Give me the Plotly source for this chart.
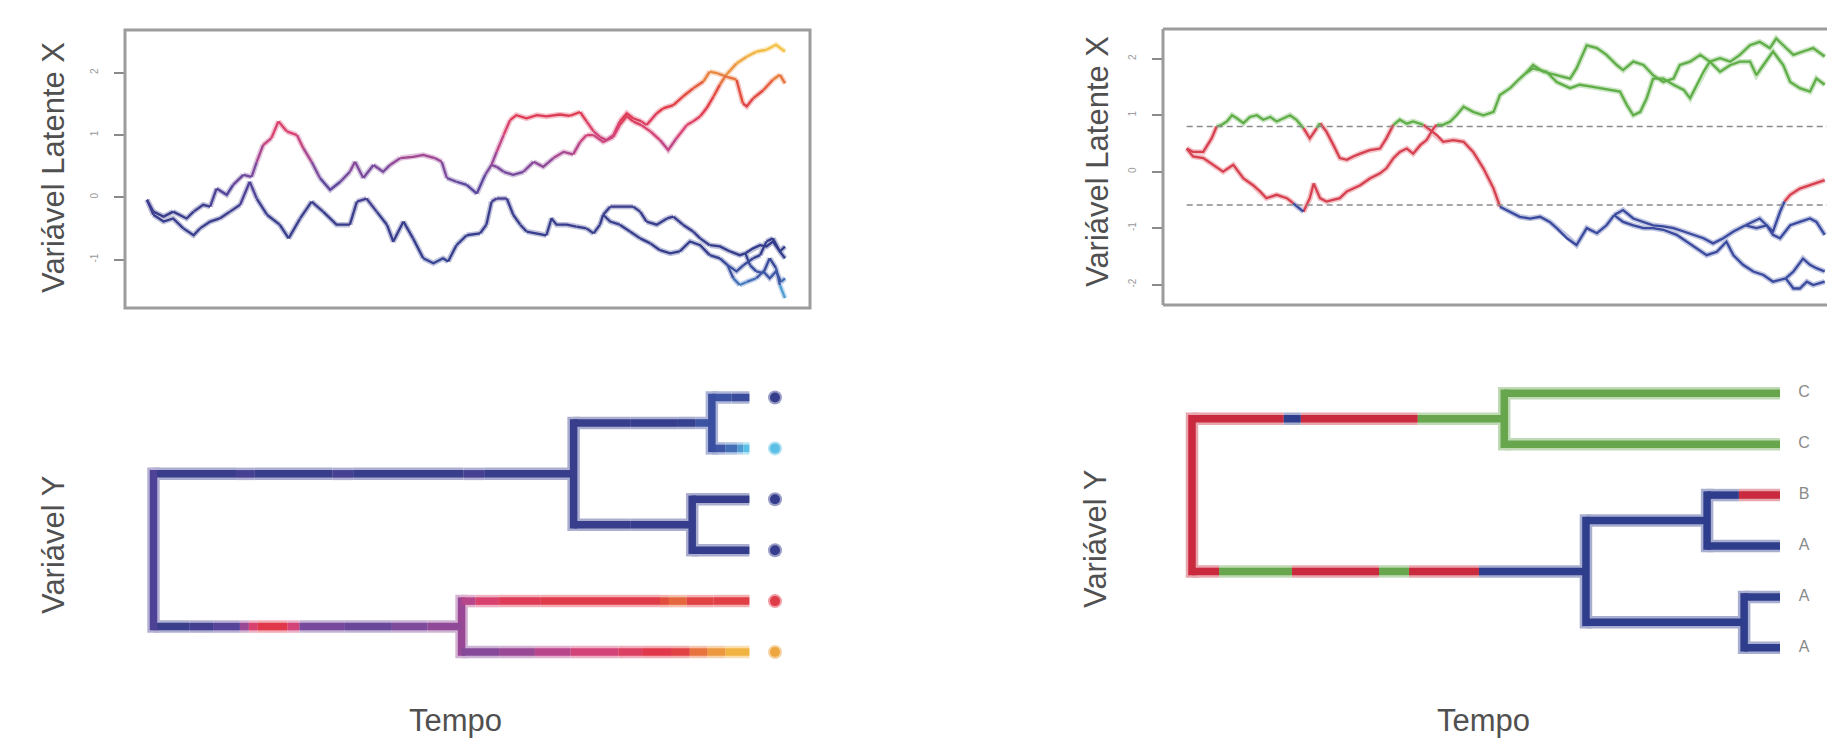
import plotly.graph_objects as go

W, H = 1827, 740

# ======================= DATA =======================
# Left panel (continuous trait): latent variable X along each branch, (relative time, value)
ESQ_RAIZ_A = [(0.000, -0.04), (0.010, -0.28), (0.026, -0.39), (0.041, -0.34), (0.057, -0.50), (0.073, -0.61),
              (0.083, -0.50), (0.099, -0.39), (0.114, -0.34), (0.130, -0.23), (0.146, -0.12), (0.161, 0.25),
              (0.172, -0.02), (0.188, -0.28), (0.208, -0.44), (0.222, -0.66), (0.240, -0.34), (0.258, -0.07),
              (0.276, -0.23), (0.297, -0.44), (0.318, -0.44), (0.329, -0.07), (0.344, -0.02), (0.360, -0.23),
              (0.376, -0.44), (0.386, -0.71), (0.402, -0.39), (0.417, -0.66), (0.433, -0.98), (0.449, -1.06),
              (0.464, -0.98), (0.472, -1.03), (0.485, -0.77), (0.501, -0.61), (0.522, -0.58), (0.532, -0.44),
              (0.540, -0.07), (0.548, -0.02), (0.564, -0.02), (0.574, -0.28), (0.585, -0.44), (0.595, -0.55),
              (0.611, -0.58), (0.626, -0.61), (0.634, -0.34), (0.642, -0.44), (0.658, -0.44), (0.673, -0.47),
              (0.689, -0.50), (0.700, -0.58), (0.710, -0.44), (0.715, -0.28)]
ESQ_RAIZ_B = [(0.000, -0.04), (0.010, -0.23), (0.026, -0.31), (0.041, -0.23), (0.062, -0.34), (0.073, -0.23),
              (0.088, -0.12), (0.099, -0.15), (0.109, 0.14), (0.125, 0.04), (0.135, 0.20), (0.151, 0.36),
              (0.164, 0.33), (0.172, 0.57), (0.182, 0.84), (0.195, 0.95), (0.206, 1.22), (0.219, 1.06),
              (0.235, 1.00), (0.245, 0.79), (0.258, 0.57), (0.271, 0.31), (0.287, 0.12), (0.303, 0.25),
              (0.318, 0.41), (0.326, 0.57), (0.339, 0.31), (0.355, 0.52), (0.370, 0.41), (0.381, 0.52),
              (0.397, 0.63), (0.417, 0.65), (0.433, 0.68), (0.451, 0.63), (0.462, 0.57), (0.470, 0.31),
              (0.485, 0.25), (0.501, 0.20), (0.517, 0.06), (0.530, 0.36), (0.540, 0.52)]
ESQ_A_A1 = [(0.715, -0.28), (0.726, -0.15), (0.741, -0.15), (0.762, -0.15), (0.773, -0.23), (0.783, -0.39),
            (0.799, -0.44), (0.815, -0.34), (0.825, -0.31), (0.840, -0.44), (0.856, -0.55), (0.867, -0.66),
            (0.882, -0.77), (0.898, -0.79), (0.914, -0.87), (0.929, -0.93), (0.938, -0.90)]
ESQ_A_A2 = [(0.715, -0.28), (0.726, -0.39), (0.741, -0.44), (0.757, -0.55), (0.773, -0.66), (0.789, -0.74),
            (0.804, -0.85), (0.820, -0.90), (0.835, -0.87), (0.851, -0.71), (0.867, -0.77), (0.882, -0.93),
            (0.898, -0.98), (0.910, -1.09)]
ESQ_A1_T1 = [(0.938, -0.90), (0.950, -0.82), (0.961, -0.77), (0.971, -0.79), (0.981, -0.71), (0.992, -0.87),
             (1.000, -0.79)]
ESQ_A1_T2 = [(0.938, -0.90), (0.945, -1.09), (0.955, -1.19), (0.966, -1.22), (0.976, -0.98), (0.986, -1.14),
             (0.992, -1.41), (1.000, -1.62)]
ESQ_A2_T3 = [(0.910, -1.09), (0.924, -1.19), (0.935, -1.09), (0.950, -0.98), (0.961, -0.93), (0.971, -0.71),
             (0.981, -0.66), (0.992, -0.87), (1.000, -0.98)]
ESQ_A2_T4 = [(0.910, -1.09), (0.919, -1.30), (0.929, -1.41), (0.940, -1.36), (0.955, -1.30), (0.966, -1.19),
             (0.976, -1.30), (0.986, -1.19), (0.994, -1.36), (1.000, -1.30)]
ESQ_B_T5 = [(0.540, 0.52), (0.548, 0.73), (0.559, 1.00), (0.569, 1.24), (0.579, 1.32), (0.595, 1.27),
            (0.611, 1.32), (0.626, 1.30), (0.647, 1.33), (0.663, 1.31), (0.679, 1.37), (0.689, 1.22),
            (0.700, 1.06), (0.710, 0.97), (0.720, 0.92), (0.731, 1.00), (0.741, 1.22), (0.752, 1.35),
            (0.762, 1.27), (0.775, 1.22), (0.783, 1.16), (0.799, 1.35), (0.809, 1.43), (0.825, 1.48),
            (0.840, 1.62), (0.856, 1.75), (0.872, 1.86), (0.882, 2.02), (0.895, 1.99), (0.908, 1.94),
            (0.924, 1.89), (0.934, 1.51), (0.940, 1.46), (0.950, 1.59), (0.966, 1.72), (0.981, 1.89),
            (0.992, 1.97), (1.000, 1.83)]
ESQ_B_T6 = [(0.540, 0.52), (0.548, 0.49), (0.559, 0.41), (0.574, 0.36), (0.590, 0.41), (0.606, 0.57),
            (0.621, 0.49), (0.637, 0.63), (0.653, 0.73), (0.668, 0.69), (0.679, 0.89), (0.689, 1.00),
            (0.700, 1.00), (0.715, 0.89), (0.731, 0.97), (0.741, 1.16), (0.752, 1.30), (0.762, 1.22),
            (0.775, 1.16), (0.789, 1.06), (0.804, 0.92), (0.817, 0.76), (0.830, 0.95), (0.846, 1.16),
            (0.856, 1.22), (0.867, 1.30), (0.877, 1.43), (0.888, 1.62), (0.898, 1.81), (0.908, 1.97),
            (0.924, 2.15), (0.940, 2.26), (0.955, 2.34), (0.971, 2.37), (0.986, 2.45), (1.000, 2.34)]

# Right panel (threshold model): latent variable X along each branch
DIR_RAIZ_AB = [(0.000, 0.41), (0.010, 0.35), (0.026, 0.35), (0.039, 0.59), (0.047, 0.80), (0.055, 0.83),
               (0.063, 0.89), (0.071, 1.00), (0.078, 0.95), (0.089, 0.86), (0.099, 0.97), (0.110, 1.00),
               (0.120, 0.92), (0.131, 0.97), (0.141, 0.89), (0.152, 0.95), (0.162, 1.00), (0.172, 0.92),
               (0.183, 0.77), (0.193, 0.59), (0.204, 0.77), (0.209, 0.86), (0.219, 0.71), (0.230, 0.47),
               (0.240, 0.24), (0.251, 0.21), (0.261, 0.27), (0.272, 0.32), (0.287, 0.38), (0.303, 0.41),
               (0.313, 0.59), (0.324, 0.83), (0.334, 0.92), (0.345, 0.85), (0.355, 0.89), (0.371, 0.83),
               (0.381, 0.74), (0.392, 0.65), (0.402, 0.53), (0.418, 0.56), (0.434, 0.53), (0.449, 0.35),
               (0.465, 0.06), (0.481, -0.30), (0.491, -0.62), (0.507, -0.71), (0.522, -0.80), (0.538, -0.83),
               (0.554, -0.80), (0.569, -0.89), (0.580, -1.00), (0.596, -1.18), (0.611, -1.30), (0.627, -1.00),
               (0.643, -1.09), (0.658, -0.95), (0.670, -0.77)]
DIR_RAIZ_C = [(0.000, 0.41), (0.010, 0.27), (0.026, 0.24), (0.042, 0.12), (0.057, 0.00), (0.073, 0.12),
              (0.089, -0.12), (0.104, -0.24), (0.115, -0.35), (0.125, -0.47), (0.141, -0.41), (0.157, -0.47),
              (0.167, -0.56), (0.183, -0.71), (0.193, -0.47), (0.199, -0.21), (0.209, -0.47), (0.219, -0.53),
              (0.230, -0.50), (0.240, -0.47), (0.251, -0.35), (0.261, -0.30), (0.272, -0.24), (0.287, -0.12),
              (0.303, -0.03), (0.313, 0.06), (0.324, 0.24), (0.334, 0.35), (0.345, 0.41), (0.355, 0.32),
              (0.366, 0.47), (0.376, 0.56), (0.387, 0.77), (0.392, 0.83), (0.402, 0.83), (0.413, 0.89),
              (0.423, 1.00), (0.434, 1.15), (0.449, 1.06), (0.465, 1.00), (0.481, 1.06), (0.491, 1.36),
              (0.507, 1.48), (0.522, 1.65), (0.531, 1.74)]
DIR_C_U1 = [(0.531, 1.74), (0.543, 1.89), (0.559, 1.77), (0.580, 1.71), (0.601, 1.65), (0.611, 1.83),
            (0.627, 2.24), (0.643, 2.19), (0.658, 2.07), (0.674, 1.89), (0.684, 1.80), (0.700, 1.95),
            (0.716, 1.89), (0.731, 1.71), (0.747, 1.59), (0.763, 1.65), (0.773, 1.89), (0.789, 1.95),
            (0.805, 2.07), (0.820, 1.95), (0.836, 2.01), (0.852, 1.95), (0.867, 2.07), (0.883, 2.24),
            (0.898, 2.30), (0.914, 2.19), (0.924, 2.36), (0.935, 2.24), (0.951, 2.07), (0.966, 2.13),
            (0.982, 2.19), (1.000, 2.04)]
DIR_C_U2 = [(0.531, 1.74), (0.543, 1.83), (0.564, 1.77), (0.580, 1.59), (0.601, 1.48), (0.616, 1.54),
            (0.632, 1.51), (0.648, 1.48), (0.664, 1.45), (0.679, 1.42), (0.690, 1.18), (0.700, 1.00),
            (0.711, 1.06), (0.721, 1.30), (0.731, 1.65), (0.747, 1.65), (0.763, 1.54), (0.779, 1.45),
            (0.789, 1.30), (0.800, 1.54), (0.810, 1.77), (0.820, 1.95), (0.836, 1.77), (0.852, 1.89),
            (0.867, 1.95), (0.883, 1.95), (0.893, 1.71), (0.904, 1.89), (0.919, 2.13), (0.935, 1.89),
            (0.946, 1.59), (0.961, 1.48), (0.977, 1.42), (0.987, 1.65), (1.000, 1.54)]
DIR_AB_S1 = [(0.670, -0.77), (0.684, -0.68), (0.700, -0.83), (0.716, -0.89), (0.731, -0.95), (0.747, -0.97),
             (0.763, -1.00), (0.779, -1.06), (0.794, -1.12), (0.810, -1.18), (0.825, -1.27), (0.841, -1.18),
             (0.857, -1.06), (0.876, -0.95)]
DIR_AB_S2 = [(0.670, -0.77), (0.684, -0.89), (0.700, -0.95), (0.716, -1.00), (0.731, -1.00), (0.747, -1.03),
             (0.768, -1.12), (0.784, -1.24), (0.800, -1.36), (0.815, -1.48), (0.831, -1.42), (0.846, -1.24),
             (0.857, -1.48), (0.872, -1.65), (0.888, -1.77), (0.904, -1.83), (0.919, -1.95), (0.939, -1.89)]
DIR_S1_U3 = [(0.876, -0.95), (0.888, -0.89), (0.898, -0.83), (0.909, -0.95), (0.919, -1.06), (0.930, -0.71),
             (0.937, -0.53), (0.946, -0.41), (0.961, -0.30), (0.977, -0.24), (1.000, -0.15)]
DIR_S1_U4 = [(0.876, -0.95), (0.893, -1.00), (0.909, -0.95), (0.919, -1.12), (0.930, -1.18), (0.946, -0.95),
             (0.961, -0.89), (0.977, -0.83), (0.987, -0.89), (1.000, -1.12)]
DIR_S2_U5 = [(0.939, -1.89), (0.951, -1.77), (0.966, -1.54), (0.977, -1.65), (0.987, -1.71), (1.000, -1.77)]
DIR_S2_U6 = [(0.939, -1.89), (0.951, -2.07), (0.961, -2.07), (0.972, -1.95), (0.982, -2.01), (1.000, -1.95)]

LIMIARES = [0.80, -0.59]          # thresholds (upper, lower)
ESQ_TICKS = [-1, 0, 1, 2]
DIR_TICKS = [-2, -1, 0, 1, 2]

# Left tree (contMap): topology, node times, colour values (runs: start time, value)
ARV_ESQ_PONTAS = ["t1", "t2", "t3", "t4", "t5", "t6"]
ARV_ESQ_PAI = {"A": "raiz", "B": "raiz", "A1": "A", "A2": "A", "t1": "A1", "t2": "A1",
               "t3": "A2", "t4": "A2", "t5": "B", "t6": "B"}
ARV_ESQ_TEMPO = {"raiz": 0.0, "A": 0.705, "B": 0.517, "A1": 0.937, "A2": 0.904,
                 "t1": 1.0, "t2": 1.0, "t3": 1.0, "t4": 1.0, "t5": 1.0, "t6": 1.0}
ARV_ESQ_VALORES = {
    "A": [(0.0, -0.3), (0.14, -0.05), (0.17, -0.35), (0.30, -0.05), (0.335, -0.35), (0.52, -0.05), (0.555, -0.4)],
    "B": [(0.0, -0.25), (0.06, -0.1), (0.10, 0.15), (0.145, 0.6), (0.16, 1.1), (0.175, 1.4), (0.225, 1.0),
          (0.245, 0.4), (0.32, 0.3), (0.40, 0.45), (0.46, 0.55)],
    "A1": [(0.705, -0.45), (0.80, -0.7), (0.88, -0.95), (0.91, -1.2)],
    "A2": [(0.705, -0.45), (0.80, -0.6)],
    "t1": [(0.937, -1.2), (0.97, -1.1)],
    "t2": [(0.937, -1.25), (0.96, -1.35), (0.98, -1.5), (0.99, -1.6)],
    "t3": [(0.904, -0.7)],
    "t4": [(0.904, -0.75)],
    "t5": [(0.517, 0.8), (0.54, 1.1), (0.58, 1.3), (0.65, 1.45), (0.85, 1.7), (0.865, 1.85), (0.895, 1.55),
           (0.94, 1.5)],
    "t6": [(0.517, 0.5), (0.58, 0.6), (0.64, 0.8), (0.70, 1.0), (0.78, 1.2), (0.82, 1.4), (0.87, 1.55),
           (0.90, 1.9), (0.93, 2.1), (0.96, 2.3)],
}
ARV_ESQ_NO_VALOR = {"raiz": 0.05, "A": -0.4, "B": 0.6, "A1": -1.15, "A2": -0.65}
ARV_ESQ_PONTA_VALOR = [-0.6, -1.62, -0.6, -0.6, 1.45, 2.2]

# Right tree (stochastic map of the discrete character): runs (state, start time)
ARV_DIR_PONTAS = ["u1", "u2", "u3", "u4", "u5", "u6"]
ARV_DIR_ROTULOS = ["C", "C", "B", "A", "A", "A"]
ARV_DIR_PAI = {"C": "raiz", "AB": "raiz", "S1": "AB", "S2": "AB", "u1": "C", "u2": "C",
               "u3": "S1", "u4": "S1", "u5": "S2", "u6": "S2"}
ARV_DIR_TEMPO = {"raiz": 0.0, "C": 0.531, "AB": 0.670, "S1": 0.876, "S2": 0.939,
                 "u1": 1.0, "u2": 1.0, "u3": 1.0, "u4": 1.0, "u5": 1.0, "u6": 1.0}
ARV_DIR_MAPAS = {
    "C": [("B", 0.0), ("A", 0.156), ("B", 0.185), ("C", 0.384)],
    "AB": [("B", 0.0), ("C", 0.046), ("B", 0.17), ("C", 0.318), ("B", 0.369), ("A", 0.488)],
    "u1": [("C", 0.531)], "u2": [("C", 0.531)],
    "S1": [("A", 0.670)], "S2": [("A", 0.670)],
    "u3": [("A", 0.876), ("B", 0.93)], "u4": [("A", 0.876)],
    "u5": [("A", 0.939)], "u6": [("A", 0.939)],
}
ARV_DIR_NO_ESTADO = {"raiz": "B", "C": "C", "AB": "A", "S1": "A", "S2": "A"}

# ======================= STYLE =======================
FONT = "Liberation Sans, Arial, sans-serif"
FRAME = "#9c9c9c"
STATE_CORE = {"A": "#2f3d8d", "B": "#c92a3d", "C": "#68a64e"}
STATE_LINE = {"A": "#3a4a9e", "B": "#d6404f", "C": "#5fae48"}
CMAP = [(-1.62, "#5ec8ea"), (-1.45, "#4a88c8"), (-1.25, "#3d56a6"), (-0.9, "#333d8c"), (-0.2, "#3a3d8c"),
        (0.15, "#55449a"), (0.45, "#7d4a9c"), (0.75, "#b2468e"), (1.05, "#d84474"), (1.4, "#e0384a"),
        (1.75, "#e2503c"), (2.0, "#ea8a3e"), (2.45, "#f4c842")]


def hx(c):
    return tuple(int(c[i:i + 2], 16) for i in (1, 3, 5))


def tohex(rgb):
    return "#%02x%02x%02x" % tuple(max(0, min(255, int(round(v)))) for v in rgb)


def cmap(v):
    v = round(v / 0.05) * 0.05
    if v <= CMAP[0][0]:
        return CMAP[0][1]
    for (a, ca), (b, cb) in zip(CMAP[:-1], CMAP[1:]):
        if v <= b:
            f = (v - a) / (b - a)
            A, B = hx(ca), hx(cb)
            return tohex([A[i] + f * (B[i] - A[i]) for i in range(3)])
    return CMAP[-1][1]


def blend(c, a):
    r = hx(c)
    return tohex([r[i] + a * (255 - r[i]) for i in range(3)])


# ======================= LAYOUT (pixels) =======================
LT_BOX = (125, 810, 30, 308)
LT_T0, LT_TS = 147.0, 638.0          # px of t=0, px per time unit
LT_V0, LT_VS = 197.3, 62.23          # px of value 0, px per value unit
RT_BOX = (1163, 1827, 29, 305)
RT_T0, RT_TS = 1186.7, 638.0
RT_V0, RT_VS = 171.67, 56.43
LTR_X = (100, 830); LTR_T0, LTR_TS = 153.5, 595.9
RTR_X = (1100, 1827); RTR_T0, RTR_TS = 1192.0, 588.0
TR_Y = (370, 680)
LTR_TIP1, RTR_TIP1, TR_SP = 397.5, 393.3, 50.9


def xdom(a, b):
    return [a / W, b / W]


def ydom(top, bot):
    return [1 - bot / H, 1 - top / H]


fig = go.Figure()


def draw_lines(branches, color_fn, xa, ya, core_w=2.3, halo_w=5.5, halo_a=0.68):
    polys = []
    for pts in branches:
        cur = None
        for (t0, v0), (t1, v1) in zip(pts[:-1], pts[1:]):
            col = color_fn((v0 + v1) / 2)
            if cur is not None and cur[0] == col:
                cur[1].append(t1); cur[2].append(v1)
            else:
                cur = [col, [t0, t1], [v0, v1]]
                polys.append(cur)
    for layer in ("halo", "core"):
        groups = {}
        for col, xs, ys in polys:
            g = groups.setdefault(col, ([], []))
            g[0].extend(xs + [None]); g[1].extend(ys + [None])
        for col, (xs, ys) in groups.items():
            c = blend(col, halo_a) if layer == "halo" else col
            w = halo_w if layer == "halo" else core_w
            fig.add_trace(go.Scatter(x=xs, y=ys, mode="lines", xaxis=xa, yaxis=ya,
                                     line=dict(color=c, width=w), hoverinfo="skip"))


def draw_tree(parent, times, tips, runs_color, node_color, xa, ya, core_w=7.5, halo_w=12.5, halo_a=0.58):
    y = {t: i + 1 for i, t in enumerate(tips)}
    children = {}
    for c, p in parent.items():
        children.setdefault(p, []).append(c)

    def gety(n):
        if n not in y:
            ys = [gety(c) for c in children[n]]
            y[n] = (min(ys) + max(ys)) / 2
        return y[n]
    for n in children:
        gety(n)

    hsegs = []
    for child, p in parent.items():
        runs = runs_color[child]
        for i, (t0, col) in enumerate(runs):
            if i == 0:
                t0 = times[p]
            t1 = runs[i + 1][0] if i + 1 < len(runs) else times[child]
            hsegs.append((col, t0, t1, y[child]))
    vsegs = []
    for node, ch in children.items():
        ys = [y[c] for c in ch]
        vsegs.append((node_color[node], times[node], min(ys), max(ys)))

    for layer in ("halo", "core"):
        w = halo_w if layer == "halo" else core_w
        ext = (w / 2) / TR_SP
        groups = {}
        for col, t0, t1, yy in hsegs:
            g = groups.setdefault(col, ([], []))
            g[0].extend([t0, t1, None]); g[1].extend([yy, yy, None])
        for col, tn, ya0, yb0 in vsegs:
            g = groups.setdefault(col, ([], []))
            g[0].extend([tn, tn, None]); g[1].extend([ya0 - ext, yb0 + ext, None])
        for col, (xs, ys) in groups.items():
            c = blend(col, halo_a) if layer == "halo" else col
            fig.add_trace(go.Scatter(x=xs, y=ys, mode="lines", xaxis=xa, yaxis=ya,
                                     line=dict(color=c, width=w), hoverinfo="skip"))
    return y


# ---- left top: continuous latent trait
draw_lines([ESQ_RAIZ_A, ESQ_RAIZ_B, ESQ_A_A1, ESQ_A_A2, ESQ_A1_T1, ESQ_A1_T2, ESQ_A2_T3, ESQ_A2_T4,
            ESQ_B_T5, ESQ_B_T6], cmap, "x", "y")


# ---- right top: threshold model
def state_of(v):
    return "C" if v > LIMIARES[0] else ("A" if v < LIMIARES[1] else "B")


draw_lines([DIR_RAIZ_AB, DIR_RAIZ_C, DIR_C_U1, DIR_C_U2, DIR_AB_S1, DIR_AB_S2, DIR_S1_U3, DIR_S1_U4,
            DIR_S2_U5, DIR_S2_U6], lambda v: STATE_LINE[state_of(v)], "x2", "y2")

rt_xmax = (RT_BOX[1] - RT_T0) / RT_TS
for th in LIMIARES:
    fig.add_trace(go.Scatter(x=[0, rt_xmax], y=[th, th], mode="lines", xaxis="x2", yaxis="y2",
                             line=dict(color="#8a8a8a", width=1.6, dash="6px,4px"), hoverinfo="skip"))

# ---- left tree
ly = draw_tree(ARV_ESQ_PAI, ARV_ESQ_TEMPO, ARV_ESQ_PONTAS,
               {k: [(t, cmap(v)) for t, v in r] for k, r in ARV_ESQ_VALORES.items()},
               {k: cmap(v) for k, v in ARV_ESQ_NO_VALOR.items()}, "x3", "y3")
dot_t = (775 - LTR_T0) / LTR_TS
fig.add_trace(go.Scatter(x=[dot_t] * len(ARV_ESQ_PONTAS), y=[ly[t] for t in ARV_ESQ_PONTAS],
                         mode="markers", xaxis="x3", yaxis="y3", hoverinfo="skip",
                         marker=dict(size=14, color=[blend(cmap(v), 0.5) for v in ARV_ESQ_PONTA_VALOR],
                                     line=dict(width=0))))
fig.add_trace(go.Scatter(x=[dot_t] * len(ARV_ESQ_PONTAS), y=[ly[t] for t in ARV_ESQ_PONTAS],
                         mode="markers", xaxis="x3", yaxis="y3", hoverinfo="skip",
                         marker=dict(size=10, color=[cmap(v) for v in ARV_ESQ_PONTA_VALOR],
                                     line=dict(width=0))))

# ---- right tree
ry = draw_tree(ARV_DIR_PAI, ARV_DIR_TEMPO, ARV_DIR_PONTAS,
               {k: [(t, STATE_CORE[s]) for s, t in r] for k, r in ARV_DIR_MAPAS.items()},
               {k: STATE_CORE[s] for k, s in ARV_DIR_NO_ESTADO.items()}, "x4", "y4")
lab_t = (1804 - RTR_T0) / RTR_TS
fig.add_trace(go.Scatter(x=[lab_t] * len(ARV_DIR_PONTAS), y=[ry[t] for t in ARV_DIR_PONTAS],
                         mode="text", text=ARV_DIR_ROTULOS, xaxis="x4", yaxis="y4", hoverinfo="skip",
                         textfont=dict(family=FONT, size=16, color="#8a8a8a")))

# ======================= AXES =======================
hidden = dict(showgrid=False, zeroline=False, showticklabels=False, ticks="", showline=False)
ytick_style = dict(showgrid=False, zeroline=False, ticks="outside", ticklen=10, tickwidth=1.5,
                   tickcolor="#8a8a8a", tickangle=-90, ticklabelstandoff=12,
                   tickfont=dict(family=FONT, size=10, color="#9a9a9a"), showline=False)

fig.update_layout(
    width=W, height=H, margin=dict(l=0, r=0, t=0, b=0), paper_bgcolor="white", plot_bgcolor="white",
    showlegend=False, hovermode=False,
    xaxis=dict(domain=xdom(LT_BOX[0], LT_BOX[1]),
               range=[(LT_BOX[0] - LT_T0) / LT_TS, (LT_BOX[1] - LT_T0) / LT_TS], anchor="y", **hidden),
    yaxis=dict(domain=ydom(LT_BOX[2], LT_BOX[3]),
               range=[(LT_V0 - LT_BOX[3]) / LT_VS, (LT_V0 - LT_BOX[2]) / LT_VS], anchor="x",
               tickvals=ESQ_TICKS, ticktext=[str(v) for v in ESQ_TICKS], **ytick_style),
    xaxis2=dict(domain=xdom(RT_BOX[0], RT_BOX[1]),
                range=[(RT_BOX[0] - RT_T0) / RT_TS, rt_xmax], anchor="y2", **hidden),
    yaxis2=dict(domain=ydom(RT_BOX[2], RT_BOX[3]),
                range=[(RT_V0 - RT_BOX[3]) / RT_VS, (RT_V0 - RT_BOX[2]) / RT_VS], anchor="x2",
                tickvals=DIR_TICKS, ticktext=[str(v) for v in DIR_TICKS], **ytick_style),
    xaxis3=dict(domain=xdom(*LTR_X), range=[(LTR_X[0] - LTR_T0) / LTR_TS, (LTR_X[1] - LTR_T0) / LTR_TS],
                anchor="y3", **hidden),
    yaxis3=dict(domain=ydom(*TR_Y), range=[1 + (TR_Y[1] - LTR_TIP1) / TR_SP, 1 + (TR_Y[0] - LTR_TIP1) / TR_SP],
                anchor="x3", **hidden),
    xaxis4=dict(domain=xdom(*RTR_X), range=[(RTR_X[0] - RTR_T0) / RTR_TS, (RTR_X[1] - RTR_T0) / RTR_TS],
                anchor="y4", **hidden),
    yaxis4=dict(domain=ydom(*TR_Y), range=[1 + (TR_Y[1] - RTR_TIP1) / TR_SP, 1 + (TR_Y[0] - RTR_TIP1) / TR_SP],
                anchor="x4", **hidden),
)

# frames
fig.add_shape(type="rect", xref="x domain", yref="y domain", x0=0, x1=1, y0=0, y1=1,
              line=dict(color=FRAME, width=3), layer="above")
for (x0, x1, y0, y1) in [(0, 0, 0, 1), (0, 1.02, 1, 1), (0, 1.02, 0, 0)]:
    fig.add_shape(type="line", xref="x2 domain", yref="y2 domain", x0=x0, x1=x1, y0=y0, y1=y1,
                  line=dict(color=FRAME, width=3), layer="above")

# titles (rotated axis titles centred; "Tempo" sits on the bottom edge)
TITLES = [("Variável Latente X", 53, 168, -90, "middle"), ("Variável Latente X", 1097, 162, -90, "middle"),
          ("Variável Y", 53, 545, -90, "middle"), ("Variável Y", 1095, 539, -90, "middle"),
          ("Tempo", 455, 739, 0, "bottom"), ("Tempo", 1483, 739, 0, "bottom")]
for txt, px, py, ang, yanc in TITLES:
    fig.add_annotation(text=txt, x=px / W, y=1 - py / H, xref="paper", yref="paper", showarrow=False,
                       textangle=ang, xanchor="center", yanchor=yanc, borderpad=0,
                       font=dict(family=FONT, size=31, color="#505050"))

fig.write_html("out.html", config={"displayModeBar": False},
               post_script="document.body.style.margin='0';document.body.style.overflow='hidden';")
